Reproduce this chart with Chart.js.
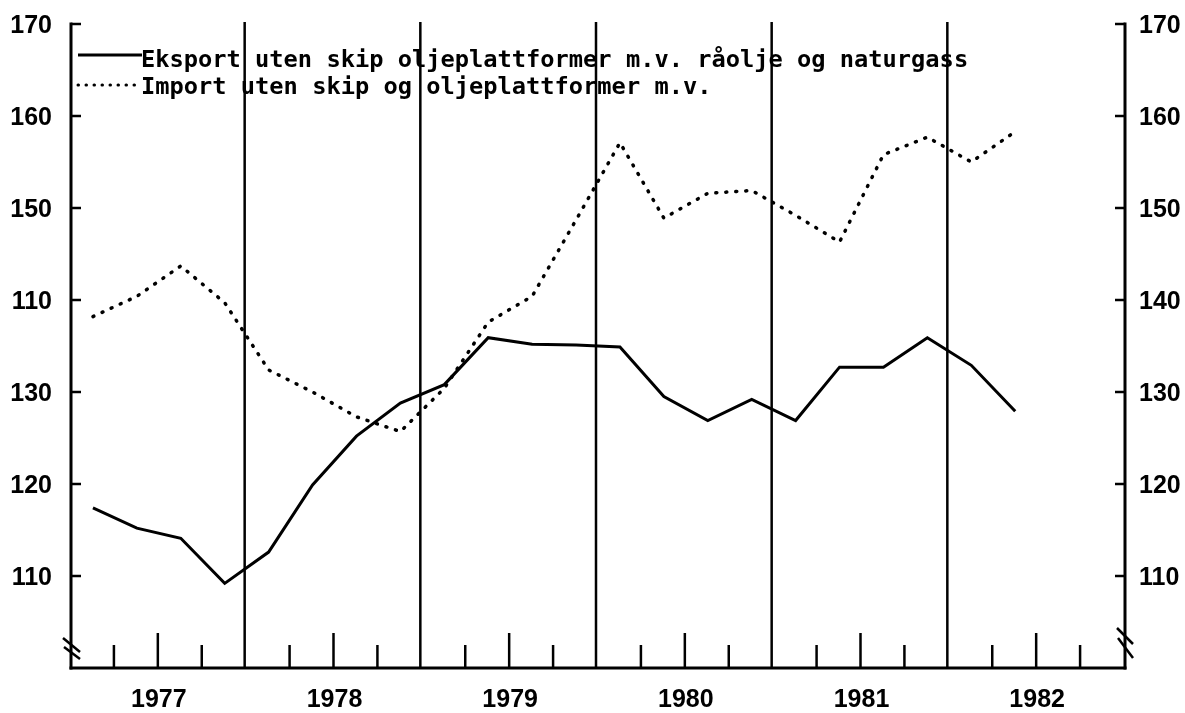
<!DOCTYPE html>
<html>
<head>
<meta charset="utf-8">
<script src="https://cdn.jsdelivr.net/npm/chart.js@4/dist/chart.umd.min.js"></script>
<style>
html,body{margin:0;padding:0;background:#fff;}
canvas{display:block;}
</style>
</head>
<body>
<canvas id="c" width="1185" height="713"></canvas>
<script>
// ---- data (quarterly, 1977 K1 .. 1982 K2) ----
const years = ['1977','1978','1979','1980','1981','1982'];
const eksport = [117.4,115.2,114.1,109.2,112.6,119.9,125.2,128.8,130.8,135.9,135.2,135.1,134.9,129.5,126.9,129.2,126.9,132.7,132.7,135.9,132.9,127.9];
const importData = [138.2,140.4,143.7,139.7,132.4,130.0,127.3,125.7,130.4,137.6,140.4,148.7,157.1,148.9,151.6,151.9,149.2,146.3,155.8,157.7,155.0,158.3];
const tickValues = [110,120,130,140,150,160,170];
const leftTickLabels = ['110','120','130','110','150','160','170'];
const rightTickLabels = ['110','120','130','140','150','160','170'];
const legendLabels = ['Eksport uten skip oljeplattformer m.v. råolje og naturgass','Import uten skip og oljeplattformer m.v.'];

const toPts = arr => arr.map((v,i)=>({x:i+0.5,y:v}));

function seg(ctx,x1,y1,x2,y2){ctx.beginPath();ctx.moveTo(x1,y1);ctx.lineTo(x2,y2);ctx.stroke();}

const deco = {
  id:'deco',
  beforeDatasetsDraw(chart){
    const {ctx, chartArea:a, scales:{x,y}} = chart;
    ctx.save();
    ctx.strokeStyle='#000';
    ctx.lineCap='butt';
    // year separator lines
    ctx.lineWidth=2.5;
    for(let k=1;k<years.length;k++){
      const px=x.getPixelForValue(k*4)-2;
      seg(ctx,px,y.getPixelForValue(100),px,y.getPixelForValue(170)-2);
    }
    // quarter ticks on x axis
    ctx.lineWidth=2.5;
    for(let q=1;q<years.length*4;q++){
      if(q%4===0) continue;
      const px=x.getPixelForValue(q)-1;
      const len = (q%4===2)?35:23;
      seg(ctx,px,a.bottom,px,a.bottom-len);
    }
    // axes
    ctx.lineWidth=3;
    seg(ctx,a.left,a.top-1.5,a.left,a.bottom+1.5);
    seg(ctx,a.right,a.top-1.5,a.right,a.bottom+1.5);
    seg(ctx,a.left-1.5,a.bottom,a.right+1.5,a.bottom);
    // y ticks
    ctx.lineWidth=2.5;
    tickValues.forEach(v=>{
      const py=y.getPixelForValue(v);
      seg(ctx,a.left,py,a.left+10,py);
      seg(ctx,a.right,py,a.right-10,py);
    });
    // axis break marks
    ctx.lineWidth=2.5;
    seg(ctx,a.left-8,a.bottom-30,a.left+9,a.bottom-16);
    seg(ctx,a.left-7,a.bottom-21,a.left+9,a.bottom-9);
    seg(ctx,a.right-8,a.bottom-40,a.right+8,a.bottom-24);
    seg(ctx,a.right-7,a.bottom-30,a.right+8,a.bottom-10);
    // tick labels
    ctx.fillStyle='#000';
    ctx.font='bold 25px "Liberation Sans"';
    ctx.textBaseline='middle';
    tickValues.forEach((v,i)=>{
      const py=y.getPixelForValue(v)+2;
      ctx.textAlign='right';
      ctx.fillText(leftTickLabels[i],a.left-19,py);
      ctx.textAlign='left';
      ctx.fillText(rightTickLabels[i],a.right+14,py);
    });
    ctx.textAlign='center';
    years.forEach((yr,k)=>{
      ctx.fillText(yr,x.getPixelForValue(k*4+2),a.bottom+32);
    });
    ctx.restore();
  },
  afterDatasetsDraw(chart){
    const {ctx} = chart;
    ctx.save();
    ctx.fillStyle='#000';
    ctx.strokeStyle='#000';
    ctx.font='bold 23.7px "DejaVu Sans Mono"';
    ctx.textAlign='left';
    ctx.textBaseline='alphabetic';
    // row 1: solid
    ctx.lineWidth=3;
    seg(ctx,78,55,142,55);
    ctx.fillText(legendLabels[0],141,67);
    // row 2: dotted
    ctx.lineWidth=3;
    ctx.lineCap='round';
    ctx.setLineDash([0.5,7.5]);
    seg(ctx,78,85,140,85);
    ctx.setLineDash([]);
    ctx.fillText(legendLabels[1],141,94);
    ctx.restore();
  }
};

new Chart(document.getElementById('c'),{
  type:'line',
  data:{
    datasets:[
      {label:legendLabels[0],data:toPts(eksport),borderColor:'#000',borderWidth:3,pointRadius:0,tension:0,fill:false},
      {label:legendLabels[1],data:toPts(importData),borderColor:'#000',borderWidth:3.5,borderDash:[1,9],borderCapStyle:'round',pointRadius:0,tension:0,fill:false}
    ]
  },
  options:{
    responsive:false,
    animation:false,
    layout:{padding:{left:71,right:60,top:24,bottom:45}},
    plugins:{legend:{display:false},tooltip:{enabled:false},title:{display:false}},
    scales:{
      x:{type:'linear',min:0,max:24,display:false},
      y:{type:'linear',min:100,max:170,display:false}
    }
  },
  plugins:[deco]
});
</script>
</body>
</html>
